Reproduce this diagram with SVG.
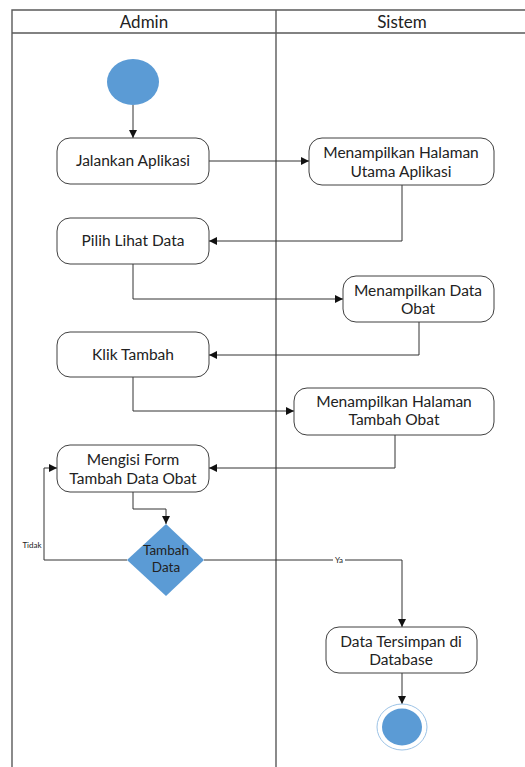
<svg xmlns="http://www.w3.org/2000/svg" width="525" height="767" viewBox="0 0 525 767">
<style>
.frame{fill:none;stroke:#5a5a5a;stroke-width:1.4}
.act{fill:#fff;stroke:#404040;stroke-width:1}
.t{font-family:Lato,"Liberation Sans",sans-serif;font-size:15.5px;fill:#222;text-anchor:middle}
.h{font-family:Lato,"Liberation Sans",sans-serif;font-size:17px;fill:#222;text-anchor:middle}
.c{fill:none;stroke:#333;stroke-width:1;marker-end:url(#ah)}
.lbl{font-family:Lato,"Liberation Sans",sans-serif;font-size:8px;fill:#222;text-anchor:middle}
</style>
<defs>
<marker id="ah" viewBox="0 0 10 10" refX="10" refY="5" markerWidth="8" markerHeight="8" markerUnits="userSpaceOnUse" orient="auto">
<path d="M0,0 L10,5 L0,10 z" fill="#111"/>
</marker>
</defs>
<rect width="525" height="767" fill="#fff"/>
<g id="swimlanes">
<path class="frame" d="M12,767 L12,10 L530,10 M12,33 L530,33 M276,10 L276,767"/>
<text class="h" x="144" y="28">Admin</text>
<text class="h" x="402" y="28">Sistem</text>
</g>
<g id="connectors">
<path class="c" d="M133,105 L133,138"/>
<path class="c" d="M209,161 L309,161"/>
<path class="c" d="M402,185 L402,241 L209,241"/>
<path class="c" d="M133,264 L133,299 L343,299"/>
<path class="c" d="M419,322 L419,355 L209,355"/>
<path class="c" d="M133,377 L133,411 L294,411"/>
<path class="c" d="M395,435 L395,468 L209,468"/>
<path class="c" d="M133,492 L133,509 L166,509 L166,524"/>
<path class="c" d="M127,560 L44,560 L44,468 L57,468"/>
<path class="c" d="M204,560 L402,560 L402,627"/>
<path class="c" d="M402,673 L402,704"/>
<text class="lbl" x="32" y="548">Tidak</text>
<rect x="333" y="555" width="12" height="9" fill="#fff"/>
<text class="lbl" x="339" y="563">Ya</text>
</g>
<g id="start">
<ellipse cx="133" cy="82" rx="26" ry="23" fill="#5b9bd5"/>
</g>
<g id="jalankan">
<rect class="act" x="57" y="138" width="152" height="46" rx="13"/>
<text class="t" x="133" y="166">Jalankan Aplikasi</text>
</g>
<g id="halamanUtama">
<rect class="act" x="309" y="138" width="185" height="47" rx="13"/>
<text class="t" x="401" y="158">Menampilkan Halaman</text>
<text class="t" x="401" y="177">Utama Aplikasi</text>
</g>
<g id="pilihLihat">
<rect class="act" x="57" y="218" width="152" height="46" rx="13"/>
<text class="t" x="133" y="246">Pilih Lihat Data</text>
</g>
<g id="dataObat">
<rect class="act" x="343" y="276" width="151" height="46" rx="13"/>
<text class="t" x="418" y="296">Menampilkan Data</text>
<text class="t" x="418" y="314">Obat</text>
</g>
<g id="klikTambah">
<rect class="act" x="57" y="332" width="152" height="45" rx="13"/>
<text class="t" x="133" y="360">Klik Tambah</text>
</g>
<g id="halamanTambah">
<rect class="act" x="294" y="388" width="200" height="47" rx="13"/>
<text class="t" x="394" y="407">Menampilkan Halaman</text>
<text class="t" x="394" y="425">Tambah Obat</text>
</g>
<g id="mengisiForm">
<rect class="act" x="57" y="445" width="152" height="47" rx="13"/>
<text class="t" x="133" y="465" style="font-size:15.5px">Mengisi Form</text>
<text class="t" x="133" y="484" style="font-size:15.5px">Tambah Data Obat</text>
</g>
<g id="decision">
<polygon points="166,524 204,560 166,596 127,560" fill="#5b9bd5"/>
<text class="t" x="166" y="555" style="font-size:13.5px">Tambah</text>
<text class="t" x="166" y="572" style="font-size:13.5px">Data</text>
</g>
<g id="tersimpan">
<rect class="act" x="326" y="627" width="151" height="46" rx="13"/>
<text class="t" x="401" y="647">Data Tersimpan di</text>
<text class="t" x="401" y="665">Database</text>
</g>
<g id="end">
<ellipse cx="402" cy="727" rx="25" ry="23" fill="#fff" stroke="#9dc3e6" stroke-width="1"/>
<ellipse cx="402" cy="727" rx="20" ry="18.5" fill="#5b9bd5"/>
</g>
</svg>
